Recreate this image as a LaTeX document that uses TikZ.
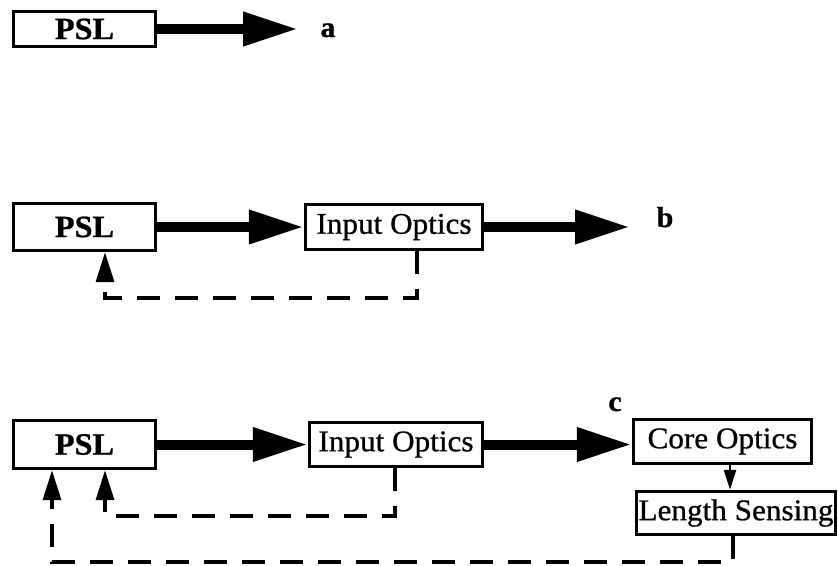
\documentclass[tikz,border=0pt]{standalone}
\usepackage{fontspec}
\setmainfont{Liberation Serif}[FakeStretch=1.04,FakeBold=0.8]
\usetikzlibrary{arrows.meta,calc}
\begin{document}
\begin{tikzpicture}[x=1pt,y=-1pt,
  box/.style={draw, line width=3.4pt, inner sep=0pt, font=\fontsize{30}{34}\selectfont},
  pslbox/.style={box, minimum width=142pt, minimum height=36pt, font=\fontsize{31}{34}\selectfont\bfseries},
  lbl/.style={anchor=base, inner sep=0pt, font=\fontsize{29}{34}\selectfont\bfseries},
  thick arrow/.style={line width=10pt, -{Triangle[length=55pt 0, width=32pt 0]}},
  fb/.style={line width=3.4pt, dash pattern=on 23pt off 15pt, -{Triangle[length=30pt 0, width=18pt 0]}},
  small arrow/.style={line width=2.6pt, -{Triangle[length=20pt 0, width=12pt 0]}}
]
\path[fill=white, use as bounding box] (0,0) rectangle (838,565);

% row a
\node[pslbox, minimum height=35pt] (psla) at (84.5,29) {PSL};
\coordinate (ta) at (298,29);
\draw[thick arrow] (psla.east) -- (ta);
\node[lbl] (la) at (328,37) {a};

% row b
\node[pslbox, minimum height=47pt] (pslb) at (84.5,227) {PSL};
\node[box, minimum width=177pt, minimum height=45pt] (iob) at (394,227) {Input Optics};
\coordinate (tb) at (630,227);
\draw[thick arrow] (pslb.east) -- (iob.west);
\draw[thick arrow] (iob.east) -- (tb);
\node[lbl] (lb) at (665,227) {b};
\coordinate (fbb1) at (417,298);
\coordinate (fbb2) at (105,298);
\draw[fb] (iob.south -| fbb1) -- (fbb1) -- (fbb2) -- (fbb2 |- pslb.south);

% row c
\node[pslbox, minimum height=48pt] (pslc) at (84.5,444.5) {PSL};
\node[box, minimum width=173pt, minimum height=44pt] (ioc) at (396,444.5) {Input Optics};
\node[box, minimum width=178pt, minimum height=44pt] (core) at (722.5,441.5) {Core Optics};
\node[box, minimum width=199pt, minimum height=43pt] (len) at (736,513) {Length Sensing};
\node[lbl] (lc) at (615,411) {c};
\draw[thick arrow] (pslc.east) -- (ioc.west);
\draw[thick arrow] (ioc.east) -- (core.west |- ioc.east);
\coordinate (sx) at (730,0);
\draw[small arrow] (core.south -| sx) -- (len.north -| sx);
\coordinate (fbc1) at (395,516);
\coordinate (fbc2) at (105,516);
\draw[fb] (ioc.south -| fbc1) -- (fbc1) -- (fbc2) -- (fbc2 |- pslc.south);
\coordinate (fbd1) at (733,562);
\coordinate (fbd2) at (52,562);
\draw[fb] (len.south -| fbd1) -- (fbd1) -- (fbd2) -- (fbd2 |- pslc.south);
\end{tikzpicture}
\end{document}
